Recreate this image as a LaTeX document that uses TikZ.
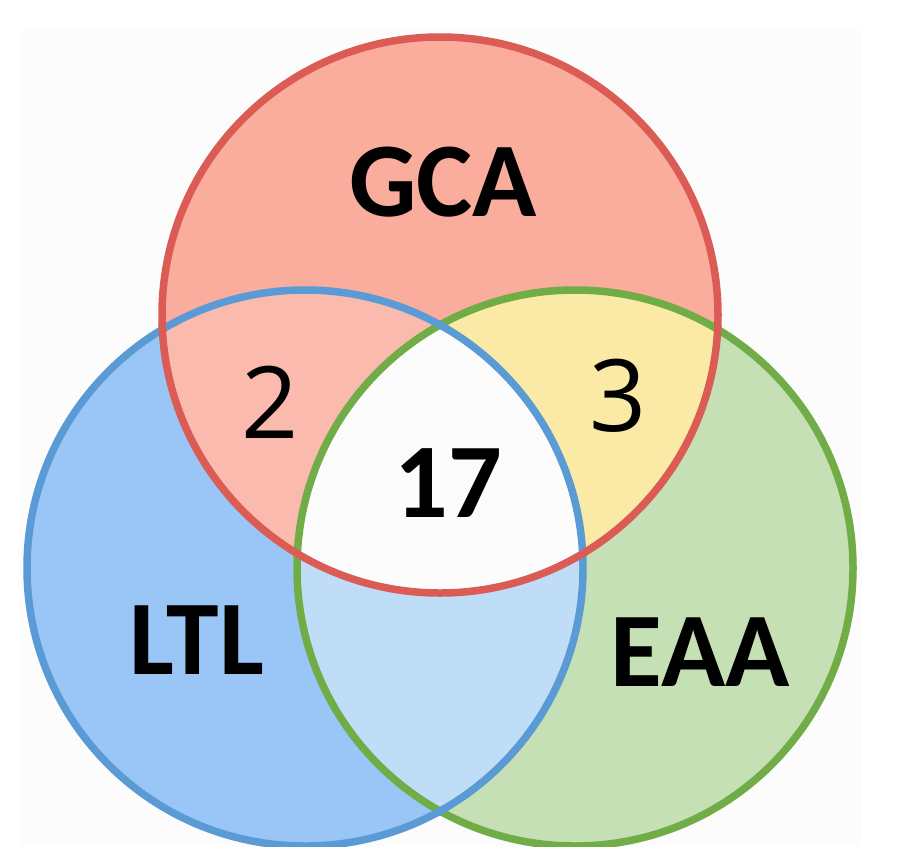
\documentclass[tikz,border=0pt]{standalone}
\usepackage{fontspec}
\setmainfont{Carlito}
\newfontfamily\numfont{Open Sans}
\definecolor{bgpanel}{HTML}{FCFCFC}
\definecolor{gcafill}{HTML}{FAAC9D}
\definecolor{gcaline}{HTML}{DB5B55}
\definecolor{ltlfill}{HTML}{99C6F6}
\definecolor{ltlline}{HTML}{5B9BD5}
\definecolor{eaafill}{HTML}{C6E0B5}
\definecolor{eaaline}{HTML}{70AD47}
\definecolor{gcaltl}{HTML}{FBBAAE}
\definecolor{gcaeaa}{HTML}{FBE9A6}
\definecolor{ltleaa}{HTML}{C0DDF8}
\definecolor{allthree}{HTML}{FCFCFC}
\begin{document}
\begin{tikzpicture}[x=1pt,y=-1pt,
  ring/.style={line width=7.5pt},
  setlabel/.style={font=\fontsize{106}{106}\selectfont\bfseries, inner sep=0pt},
  countlabel/.style={font=\numfont\fontsize{100}{100}\selectfont, inner sep=0pt},
  corelabel/.style={font=\fontsize{106}{106}\selectfont\bfseries, inner sep=0pt}]
\useasboundingbox (0,0) rectangle (915,846);
\fill[white] (0,0) rectangle (915,846);
\fill[bgpanel] (20,30) rectangle (862,846);

\def\R{278}
\coordinate (cg) at (440,315);
\coordinate (cl) at (305,568);
\coordinate (ce) at (575,568);

% base fills
\fill[ltlfill] (cl) circle (\R);
\fill[eaafill] (ce) circle (\R);
\fill[gcafill] (cg) circle (\R);

% pairwise overlaps
\begin{scope}
  \clip (cg) circle (\R);
  \fill[gcaltl] (cl) circle (\R);
  \fill[gcaeaa] (ce) circle (\R);
\end{scope}
\begin{scope}
  \clip (cl) circle (\R);
  \fill[ltleaa] (ce) circle (\R);
\end{scope}
% triple overlap
\begin{scope}
  \clip (cg) circle (\R);
  \clip (cl) circle (\R);
  \fill[allthree] (ce) circle (\R);
\end{scope}

% outlines
\draw[ring, eaaline] (ce) circle (\R);
\draw[ring, ltlline] (cl) circle (\R);
\draw[ring, gcaline] (cg) circle (\R);

% labels
\node[setlabel] (gca) at (443,182) {GCA};
\node[setlabel] (ltl) at (197,640) {LTL};
\node[setlabel] (eaa) at (700,652) {EAA};
\node[countlabel] (two) at (270,402) {2};
\node[countlabel] (three) at (618,396) {3};
\node[corelabel] (core) at (448,483) {17};
\end{tikzpicture}
\end{document}
